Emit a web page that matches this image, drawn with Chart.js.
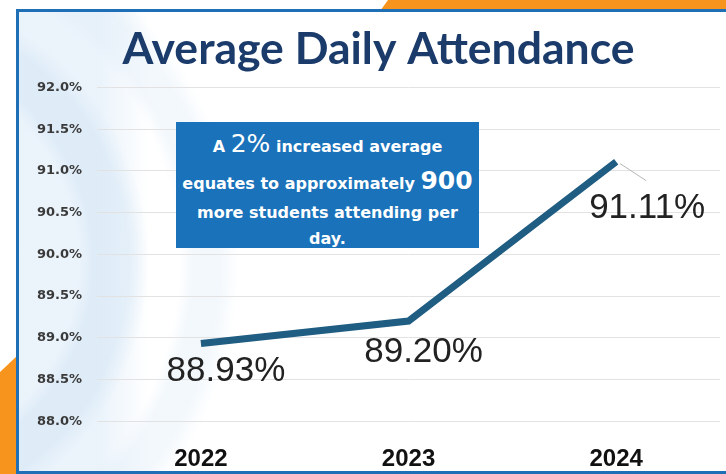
<!DOCTYPE html>
<html>
<head>
<meta charset="utf-8">
<script src="https://cdn.jsdelivr.net/npm/chart.js@4.4.1/dist/chart.umd.min.js"></script>
<style>
  html, body { margin: 0; padding: 0; background: #fff; }
  #wrap { position: relative; width: 726px; height: 474px; overflow: hidden; background: #fff; }
  .orange { position: absolute; background: #f7941d; }
  .orange.top { left: 370px; top: 0; width: 356px; height: 14px; clip-path: polygon(18px 0, 100% 0, 100% 100%, 8px 100%); }
  .orange.side { left: 0; top: 320px; width: 20px; height: 154px; clip-path: polygon(0 52px, 18px 35px, 100% 100%, 0 100%); }
  #card {
    position: absolute; left: 16px; top: 9px; width: 720px; height: 465px;
    border: 3px solid #1f6fb6; box-sizing: border-box;
    background:
      radial-gradient(circle at -140px 250px, rgba(255,255,255,0) 0 200px, rgba(212,230,245,0.55) 215px 250px, rgba(255,255,255,0) 270px 300px, rgba(224,237,248,0.4) 315px 340px, rgba(255,255,255,0) 360px),
      linear-gradient(90deg, rgba(226,238,249,0.7) 0 80px, rgba(255,255,255,0) 130px),
      #fff;
  }
  #chart { position: absolute; left: 0; top: 0; }
  #note {
    position: absolute; left: 176px; top: 122px; width: 303px; height: 126px;
    background: #1a72ba; color: #fff; text-align: center;
    font-family: "DejaVu Sans", Verdana, sans-serif; font-weight: bold; font-size: 16px;
    box-sizing: border-box; padding-top: 3px;
  }
  #note div { white-space: nowrap; }
  #note .big { font-size: 25px; }
  #note .l1 { height: 38px; line-height: 38px; }
  #note .l2 { height: 36px; line-height: 36px; }
  #note .l3 { height: 28px; line-height: 28px; }
  #note .l4 { height: 23px; line-height: 23px; }
</style>
</head>
<body>
<div id="wrap">
  <div class="orange top"></div>
  <div class="orange side"></div>
  <div id="card"></div>
  <canvas id="chart" width="726" height="474"></canvas>
  <div id="note">
    <div class="l1">A <span class="big" style="font-weight:normal">2%</span> increased average</div>
    <div class="l2">equates to approximately <span class="big">900</span></div>
    <div class="l3">more students attending per</div>
    <div class="l4">day.</div>
  </div>
</div>
<script>
const years = ['2022', '2023', '2024'];
const attendance = [88.93, 89.20, 91.11];
const yMin = 88.0;
const yMax = 92.0;
const yStep = 0.5;

// where each value label sits relative to its point
const labelOffsets = [[25, 28], [15, 31], [31, 47]];

const valueLabels = {
  id: 'valueLabels',
  afterDatasetsDraw(chart) {
    const ctx = chart.ctx;
    const pts = chart.getDatasetMeta(0).data;
    ctx.save();
    // thin leader line on the last point
    const last = pts[pts.length - 1];
    ctx.strokeStyle = '#b5b5b5';
    ctx.lineWidth = 1;
    ctx.beginPath();
    ctx.moveTo(last.x + 4, last.y + 2);
    ctx.lineTo(last.x + 30, last.y + 19);
    ctx.stroke();

    ctx.font = '35px "Liberation Sans", Arial, sans-serif';
    ctx.fillStyle = '#222';
    ctx.textAlign = 'center';
    ctx.textBaseline = 'middle';
    pts.forEach((p, i) => {
      const [dx, dy] = labelOffsets[i];
      ctx.fillText(attendance[i].toFixed(2) + '%', p.x + dx, p.y + dy);
    });
    ctx.restore();
  }
};

new Chart(document.getElementById('chart'), {
  type: 'line',
  data: {
    labels: years,
    datasets: [{
      data: attendance,
      borderColor: '#1f5d82',
      borderWidth: 7,
      borderCapStyle: 'butt',
      pointRadius: 0,
      tension: 0
    }]
  },
  options: {
    responsive: false,
    animation: false,
    layout: { padding: { left: 37, right: 6, top: 23, bottom: 0 } },
    plugins: {
      legend: { display: false },
      tooltip: { enabled: false },
      title: {
        display: true,
        text: 'Average Daily Attendance',
        color: '#1b3b6b',
        font: { family: 'Lato', weight: 'bold', size: 44.5 },
        padding: { top: 0, bottom: 11 }
      }
    },
    scales: {
      x: {
        offset: true,
        grid: { display: true, drawOnChartArea: false, drawTicks: true, tickLength: 24, tickColor: 'rgba(0,0,0,0)' },
        border: { display: false },
        ticks: {
          color: '#111',
          padding: 0,
          font: { family: "'Liberation Sans', Arial, sans-serif", weight: 'bold', size: 24 }
        }
      },
      y: {
        min: yMin,
        max: yMax,
        border: { display: false },
        grid: { color: '#e2e2e2', lineWidth: 1, drawTicks: true, tickLength: 15, tickColor: 'rgba(0,0,0,0)' },
        ticks: {
          stepSize: yStep,
          padding: 0,
          color: '#3a3a3a',
          font: { family: "'DejaVu Sans', sans-serif", weight: 'bold', size: 13 },
          callback: v => v.toFixed(1) + '%'
        }
      }
    }
  },
  plugins: [valueLabels]
});
</script>
</body>
</html>
